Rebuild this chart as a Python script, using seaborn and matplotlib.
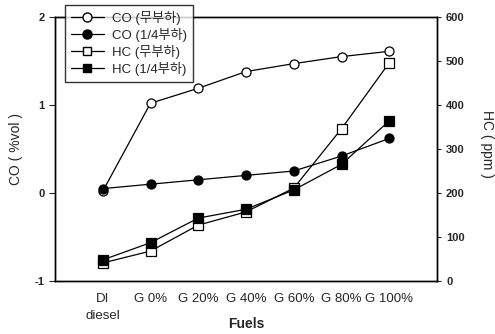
import matplotlib
matplotlib.use("Agg")
import matplotlib.pyplot as plt
import seaborn as sns
import pandas as pd
from matplotlib.lines import Line2D

fuels = ["DI\ndiesel", "G 0%", "G 20%", "G 40%", "G 60%", "G 80%", "G 100%"]
co_noload = [0.02, 1.02, 1.19, 1.38, 1.47, 1.55, 1.61]
co_quarter = [0.05, 0.10, 0.15, 0.20, 0.25, 0.42, 0.62]
hc_noload = [41, 68, 127, 157, 211, 346, 496]
hc_quarter = [48, 87, 143, 163, 207, 265, 364]
labels = ["CO (무부하)", "CO (1/4부하)", "HC (무부하)", "HC (1/4부하)"]

sns.set_style("ticks")
plt.rcParams['font.family'] = ['Liberation Sans', 'Noto Sans CJK KR', 'DejaVu Sans']
plt.rcParams['axes.unicode_minus'] = False

fig = plt.figure(figsize=(4.95, 3.34), dpi=100)
ax = fig.add_axes([55/495, 1-281/334, 382/495, 264/334])
ax2 = ax.twinx()

x = list(range(len(fuels)))
df = pd.DataFrame({"x": x, "co0": co_noload, "co1": co_quarter,
                   "hc0": hc_noload, "hc1": hc_quarter})

kw = dict(color="black", linewidth=0.9, markersize=6.5, markeredgewidth=0.9,
          markeredgecolor="black")
sns.lineplot(data=df, x="x", y="co0", ax=ax, marker="o", markerfacecolor="white", **kw)
sns.lineplot(data=df, x="x", y="co1", ax=ax, marker="o", markerfacecolor="black", **kw)
sns.lineplot(data=df, x="x", y="hc0", ax=ax2, marker="s", markerfacecolor="white", **kw)
sns.lineplot(data=df, x="x", y="hc1", ax=ax2, marker="s", markerfacecolor="black", **kw)

ax.set_xlim(-1, 7)
ax.set_ylim(-1, 2)
ax2.set_ylim(0, 600)
ax.set_yticks([-1, 0, 1, 2])
ax2.set_yticks([0, 100, 200, 300, 400, 500, 600])
ax.set_xticks(x)
ax.set_xticklabels(fuels, fontsize=9.5, linespacing=1.5)
ax.tick_params(axis="x", length=0, pad=9)
ax.tick_params(axis="y", labelsize=8, length=4, width=0.8)
ax2.tick_params(axis="y", labelsize=8, length=3, width=0.8)
for t in ax.get_yticklabels() + ax2.get_yticklabels():
    t.set_fontweight("bold")

ax.set_xlabel("Fuels", fontsize=10, fontweight="bold", va="center", ha="center")
ax.xaxis.set_label_coords(0.5, (281 - 324) / 264)
ax.set_ylabel("CO ( %vol )", fontsize=10, va="center", ha="center")
ax.yaxis.set_label_coords((16 - 55) / 382, 0.5)
ax2.set_ylabel("HC ( ppm )", fontsize=10, rotation=-90, va="center", ha="center")
ax2.yaxis.set_label_coords((487 - 55) / 382, (281 - 144) / 264)

for a in (ax, ax2):
    for s in a.spines.values():
        s.set_visible(True)
        s.set_linewidth(1.0)
        s.set_color("black")

handles = [
    Line2D([], [], color="black", lw=0.9, marker="o", mfc="white", mec="black", ms=6.5),
    Line2D([], [], color="black", lw=0.9, marker="o", mfc="black", mec="black", ms=6.5),
    Line2D([], [], color="black", lw=0.9, marker="s", mfc="white", mec="black", ms=6),
    Line2D([], [], color="black", lw=0.9, marker="s", mfc="black", mec="black", ms=6),
]
leg = ax2.legend(handles, labels, loc="upper left", bbox_to_anchor=(0.026, 1.045),
                 frameon=True, fancybox=False, fontsize=9.5, handlelength=2.5,
                 borderpad=0.45, labelspacing=0.22, handletextpad=0.6,
                 borderaxespad=0)
leg.get_frame().set_edgecolor("black")
leg.get_frame().set_linewidth(1.0)
leg.set_zorder(10)

fig.savefig("out.png", dpi=100)
